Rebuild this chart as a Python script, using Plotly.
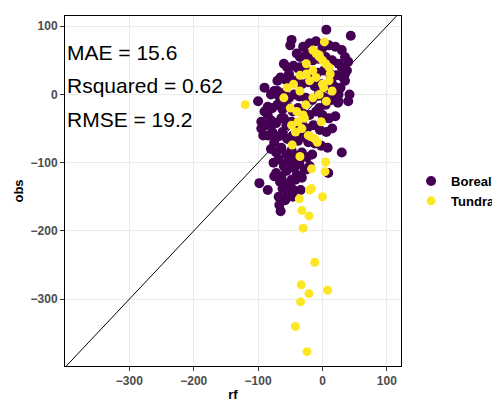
import plotly.graph_objects as go

# Boreal points (rf, obs)
boreal_rf = [6, 44, -48, -50, -30, -20, -10, 0, 10, 20, 30, 35, 40, -40, -35, -25, -15, -5, 5, 15, 25, 30, 38,
             -60, -55, -45, -38, -28, -18, -8, 2, 12, 22, 32, -70, -65, -58, -50, -42, -32, -22, -12, -2, 8, 18, 28,
             -80, -75, -68, -60, -52, -44, -36, -26, -16, -6, 4, 14, 24, -90, -85, -78, -70, -62, -54, -46, -38, -30,
             -20, -10, 0, 10, 20, -95, -88, -80, -72, -64, -56, -48, -40, -32, -24, -14, -4, 6, -85, -78, -70, -62,
             -54, -46, -38, -30, -22, -12, -2, 8, -80, -72, -64, -56, -48, -40, -32, -24, -16, -76, -68, -60, -52,
             -44, -36, -28, -20, -72, -64, -56, -48, -40, -32, -66, -58, -50, -42, -34, -62, -54, -46, -67, -65, -62,
             -73, 9, -20, 35, 42, -5, 15, 25, -92, -98, -45, -55, -75, -60,
             -100, -95, -90, -85, -80, -70, -65, -58, -52, -45, -35, -25, -15, -5, 5, 15, 25, 35, 40, 30,
             -35, -25, -45, -55, -65, -75, -85, -68, -58, -48]
boreal_obs = [95, 86, 80, 72, 70, 75, 78, 68, 72, 70, 65, 55, 48, 60, 55, 58, 50, 52, 55, 50, 45, 40, 35,
              45, 40, 42, 38, 35, 30, 32, 35, 30, 28, 25, 20, 25, 22, 18, 20, 15, 18, 12, 15, 10, 12, 10,
              0, 5, -2, 2, -5, 0, -3, -5, -8, -2, -5, -8, -12, -25, -18, -20, -15, -22, -18, -25, -20, -28,
              -30, -25, -30, -35, -32, -40, -45, -38, -42, -35, -45, -40, -48, -42, -50, -45, -52, -55, -60, -55,
              -62, -58, -65, -60, -68, -62, -70, -72, -75, -78, -80, -85, -78, -88, -82, -90, -85, -92, -88, -100,
              -95, -105, -98, -108, -102, -110, -105, -115, -120, -112, -125, -118, -122, -128, -130, -135, -125,
              -140, -138, -145, -150, -162, -171, -55, -64, -115, 60, 30, 0, -20, -50, -10, -60, -130, -140, -65, -120,
              -35, -10, -50, 10, -30, -45, 5, -80, -10, 30, 20, 40, 35, 25, 5, -15, 15, 0, 20, -10,
              -85, -95, -110, -95, -100, -60, -70, -140, -150, -155]

# Tundra points (rf, obs)
tundra_rf = [-120, -12, -33, -21, -34, 8, -42, -24, -30, -21, -32, -36, 0, -17, -20, 4, 5, -17, -35, -47, 3,
             -10, -5, 0, 5, 10, -15, -25, -35, -45, -55, -50, -40, -30, -20, -10, 0, 10, 15, -5, -15, -28,
             -38, -48, -42, -32, -22, -12, -2, -8, -18, -26, 2, 12, -60, -35, -25, -15, -5, 6]
tundra_obs = [-15, -246, -279, -292, -304, -287, -340, -377, -196, -178, -170, -153, -150, -138, -140, -113,
              -99, -109, -91, -74, 77, 60, 55, 50, 45, 40, 35, 30, 28, 15, 10, -20, -25, -30, 20, 25, 15, 20,
              5, 0, -5, -35, -40, -45, -55, -50, -60, -65, -40, -70, -62, -15, 10, 30, -5, 5, 45, 65, 58, -10]

mae, rsq, rmse = 15.6, 0.62, 19.2
diag = [-400, 125]

fig = go.Figure()
fig.add_trace(go.Scatter(x=diag, y=diag, mode="lines", line=dict(color="black", width=1),
                         showlegend=False, hoverinfo="skip"))
fig.add_trace(go.Scatter(x=boreal_rf, y=boreal_obs, mode="markers", name="Boreal",
                         marker=dict(color="#440154", size=10)))
fig.add_trace(go.Scatter(x=tundra_rf, y=tundra_obs, mode="markers", name="Tundra",
                         marker=dict(color="#FDE725", size=9)))

for i, txt in enumerate([f"MAE = {mae}", f"Rsquared = {rsq}", f"RMSE = {rmse}"]):
    fig.add_annotation(xref="paper", yref="paper", x=0.0, y=0.895 - i * 0.095, text=txt,
                       showarrow=False, xanchor="left", yanchor="middle",
                       font=dict(size=21, color="black"))

axis = dict(showgrid=True, gridcolor="#ebebeb", zeroline=False, showline=True, linecolor="black",
            linewidth=1, mirror=True, ticks="outside", ticklen=4, tickcolor="#333", automargin=False,
            tickfont=dict(size=12, color="#4d4d4d", weight="bold"))
fig.update_xaxes(**axis, range=[-400, 122], tickvals=[-300, -200, -100, 0, 100],
                 title=dict(text="<b>rf</b>", font=dict(size=13, color="black"), standoff=2))
fig.update_yaxes(**axis, range=[-398, 115], tickvals=[100, 0, -100, -200, -300],
                 title=dict(text="<b>obs</b>", font=dict(size=13, color="black"), standoff=4))
fig.update_layout(width=500, height=400, plot_bgcolor="white", paper_bgcolor="white",
                  margin=dict(l=57, r=100, t=8, b=42), font=dict(family="Liberation Sans, Arial"),
                  legend=dict(x=1.03, y=0.5, yanchor="middle",
                              font=dict(size=13, color="black", weight="bold")))
fig.write_html("out.html")
